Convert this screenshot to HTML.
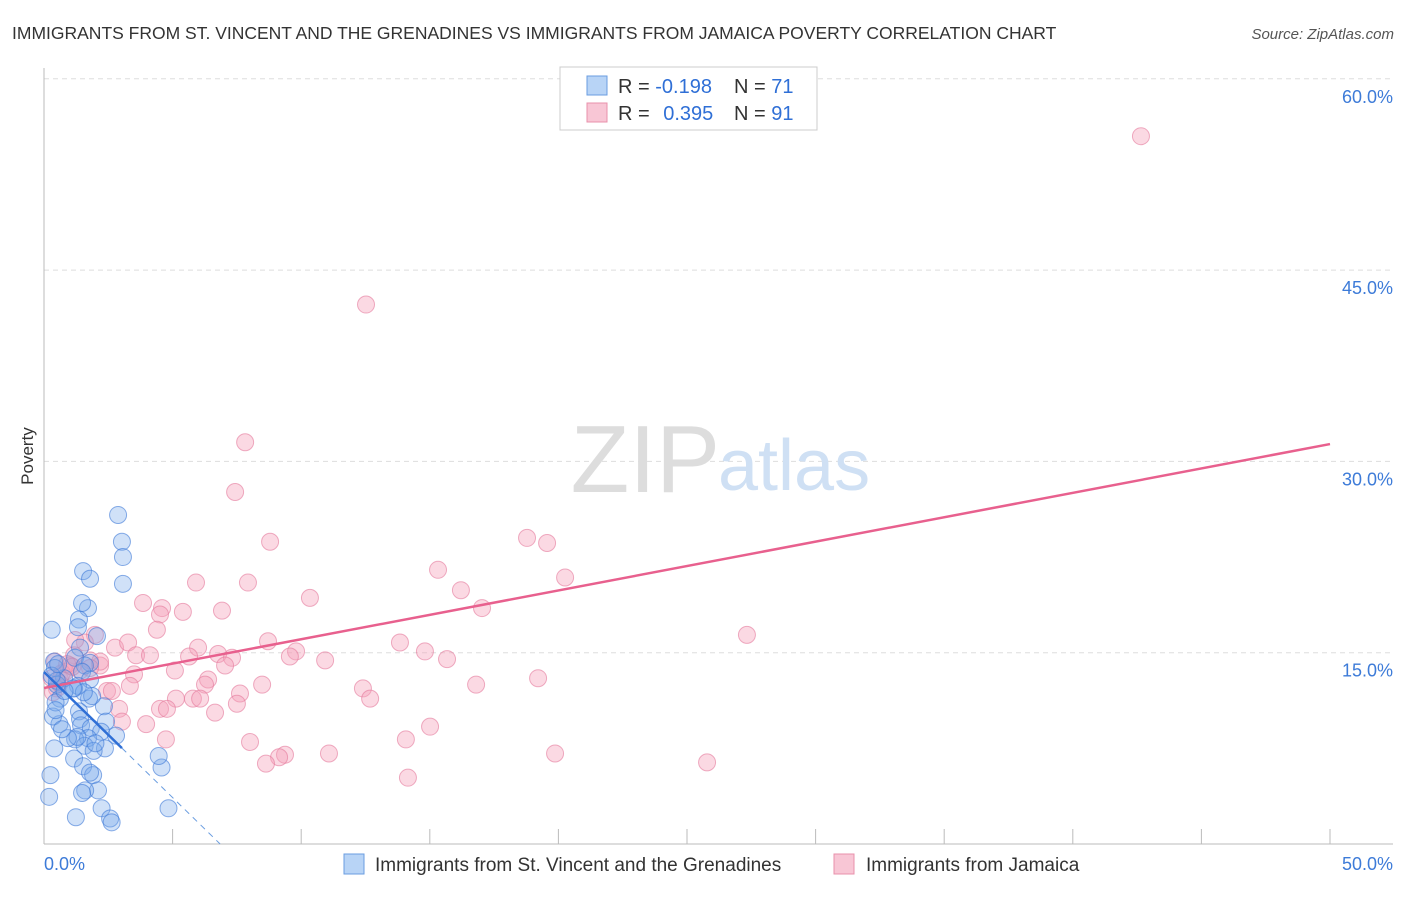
<!DOCTYPE html>
<html><head><meta charset="utf-8"><style>
body{margin:0;background:#fff;font-family:"Liberation Sans",sans-serif}
svg text{font-family:"Liberation Sans",sans-serif}
</style></head><body>
<svg width="1406" height="892">
<text x="12" y="39" font-size="17.5" fill="#333">IMMIGRANTS FROM ST. VINCENT AND THE GRENADINES VS IMMIGRANTS FROM JAMAICA POVERTY CORRELATION CHART</text>
<text x="1394" y="39" font-size="15" fill="#555" font-style="italic" text-anchor="end">Source: ZipAtlas.com</text>
<text x="33" y="456" font-size="17" fill="#333" transform="rotate(-90 33 456)" text-anchor="middle">Poverty</text>
<g id="grid"></g>
<text x="720" y="492" font-size="96" fill="#ddd" text-anchor="end" font-family="Liberation Serif">ZIP</text>
<text x="718" y="490" font-size="72" fill="#cfe0f4">atlas</text>
<g id="pts"></g>
<g id="lines"></g>
<g>
<rect x="560" y="67" width="257" height="63" fill="#fff" stroke="#ccc"/>
<rect x="587" y="76" width="20" height="19" fill="#b8d4f6" stroke="#6a9de0"/>
<rect x="587" y="103" width="20" height="19" fill="#f8c6d5" stroke="#e890ab"/>
<text x="618" y="93" font-size="20" fill="#333">R = <tspan fill="#2f6fd6">-0.198</tspan></text>
<text x="734" y="93" font-size="20" fill="#333">N = <tspan fill="#2f6fd6">71</tspan></text>
<text x="618" y="120" font-size="20" fill="#333">R = <tspan fill="#2f6fd6" dx="8">0.395</tspan></text>
<text x="734" y="120" font-size="20" fill="#333">N = <tspan fill="#2f6fd6">91</tspan></text>
</g>
<g>
<rect x="344" y="854" width="20" height="20" fill="#b8d4f6" stroke="#6a9de0"/>
<text x="375" y="871" font-size="19" fill="#333">Immigrants from St. Vincent and the Grenadines</text>
<rect x="834" y="854" width="20" height="20" fill="#f8c6d5" stroke="#e890ab"/>
<text x="866" y="871" font-size="19" fill="#333">Immigrants from Jamaica</text>
</g>
<text x="44" y="870" font-size="18" fill="#3d7bd8">0.0%</text>
<text x="1393" y="870" font-size="18" fill="#3d7bd8" text-anchor="end">50.0%</text>
</svg>
<script>
const yTicks=[15,30,45,60];
const yTickLabels=["15.0%","30.0%","45.0%","60.0%"];
const xTicks=[0,5,10,15,20,25,30,35,40,45,50];
const blueX=[2.88,3.03,3.07,3.07,1.52,1.79,1.71,1.48,1.36,1.32,2.06,1.40,1.21,1.79,1.59,1.48,1.79,1.32,1.17,1.75,2.33,1.36,1.40,2.41,1.44,1.82,2.22,2.80,1.71,1.21,1.58,2.37,1.93,1.17,1.52,1.91,1.79,2.10,1.60,2.24,1.24,2.57,2.63,4.57,4.46,4.84,1.48,1.87,1.55,0.39,1.13,0.78,0.62,0.50,0.42,0.60,1.30,2.00,0.93,0.35,0.45,0.50,0.30,0.55,0.70,0.40,0.80,0.30,0.45,0.20,0.25];
const blueY=[25.8,23.7,22.5,20.4,21.4,20.8,18.5,18.9,17.6,17.0,16.3,15.4,14.6,14.2,14.0,13.5,12.9,12.4,12.2,11.4,10.8,10.4,9.8,9.6,9.3,9.1,8.8,8.5,8.3,8.2,7.7,7.5,7.3,6.7,6.1,5.4,5.6,4.2,4.2,2.8,2.1,2.0,1.7,6.0,6.9,2.8,4.0,11.6,11.9,14.3,12.2,13.0,11.4,12.5,13.8,9.4,8.4,7.9,8.3,10.0,11.1,12.8,13.2,14.1,9.0,7.5,12.0,16.8,10.5,3.7,5.4];
const pinkX=[42.65,12.52,7.82,7.43,8.79,18.78,19.56,15.32,20.26,16.21,5.91,7.93,10.34,17.03,3.85,4.59,4.51,5.40,6.92,1.98,4.39,27.33,2.76,3.27,8.71,13.84,5.99,9.80,14.81,3.58,4.12,5.64,6.77,7.31,9.56,10.93,15.67,1.17,1.79,2.18,5.09,7.04,3.50,6.38,6.26,8.48,3.34,16.80,19.21,12.40,2.45,2.64,5.13,5.79,6.07,7.62,12.68,7.50,2.92,4.51,4.78,6.65,3.97,3.03,15.01,4.74,8.01,14.07,19.87,11.08,9.37,9.14,8.63,25.78,14.15,1.01,1.40,0.62,0.82,0.43,1.59,2.18,1.21,1.79,0.30,0.70,0.50,0.90,1.10,0.35,0.60];
const pinkY=[55.5,42.3,31.5,27.6,23.7,24.0,23.6,21.5,20.9,19.9,20.5,20.5,19.3,18.5,18.9,18.5,18.0,18.2,18.3,16.4,16.8,16.4,15.4,15.8,15.9,15.8,15.4,15.1,15.1,14.8,14.8,14.7,14.9,14.6,14.7,14.4,14.5,14.8,14.4,14.0,13.6,14.0,13.3,12.9,12.5,12.5,12.4,12.5,13.0,12.2,12.0,12.0,11.4,11.4,11.4,11.8,11.4,11.0,10.6,10.6,10.6,10.3,9.4,9.6,9.2,8.2,8.0,8.2,7.1,7.1,7.0,6.8,6.3,6.4,5.2,14.0,13.6,12.9,13.5,14.3,15.8,14.3,16.0,13.8,13.0,13.4,12.2,14.1,13.9,11.9,12.6];
const pinkTrend=[12.23,31.36];
const blueTrend=[13.49,-1.97];
const blueSolidEnd=3.03;
const X0=44,X1=1330,Y0=844,PERY=191.3/15;
const sx=v=>X0+(v/50)*(X1-X0);
const sy=v=>Y0-v*PERY;
const NS="http://www.w3.org/2000/svg";
function mk(t,a,p){const e=document.createElementNS(NS,t);for(const k in a)e.setAttribute(k,a[k]);p.appendChild(e);return e;}
const grid=document.getElementById('grid');
yTicks.forEach((t,i)=>{
 const l=mk('line',{x1:44,x2:1393,y1:sy(t),y2:sy(t),stroke:'#ddd','stroke-dasharray':'5,4'},grid);
 
 
 const tx=mk('text',{x:1393,y:sy(t)+24,'font-size':18,fill:'#3d7bd8','text-anchor':'end'},grid);
 tx.textContent=yTickLabels[i];
 
 
});
const ax=mk('line',{x1:44,x2:44,y1:68,y2:Y0,stroke:'#bbb'},grid);


const bx=mk('line',{x1:44,x2:1393,y1:Y0,y2:Y0,stroke:'#bbb'},grid);


xTicks.forEach(t=>{
 const l=mk('line',{x1:sx(t),x2:sx(t),y1:Y0-15,y2:Y0,stroke:'#bbb'},grid);
 
 
});
const pts=document.getElementById('pts');
pinkX.forEach((x,i)=>{
 const c=mk('circle',{cx:sx(x),cy:sy(pinkY[i]),r:8.5,fill:'rgba(244,160,186,0.4)',stroke:'rgba(228,120,155,0.6)','stroke-width':1},pts);
 
 
});
blueX.forEach((x,i)=>{
 const c=mk('circle',{cx:sx(x),cy:sy(blueY[i]),r:8.5,fill:'rgba(120,170,235,0.35)',stroke:'rgba(60,120,215,0.6)','stroke-width':1},pts);
 
 
});
const lines=document.getElementById('lines');
const pl=mk('line',{x1:sx(0),y1:sy(pinkTrend[0]),x2:sx(50),y2:sy(pinkTrend[1]),stroke:'#e8608e','stroke-width':2.5},lines);


const bEnd=blueTrend[0]+blueTrend[1]*blueSolidEnd;
const xz=-blueTrend[0]/blueTrend[1];
const bl=mk('line',{x1:sx(0),y1:sy(blueTrend[0]),x2:sx(blueSolidEnd),y2:sy(bEnd),stroke:'#2f6fd6','stroke-width':2.5},lines);


const bd=mk('line',{x1:sx(blueSolidEnd),y1:sy(bEnd),x2:sx(xz),y2:sy(0),stroke:'#6a9de0','stroke-width':1,'stroke-dasharray':'6,5'},lines);


</script>
</body></html>
